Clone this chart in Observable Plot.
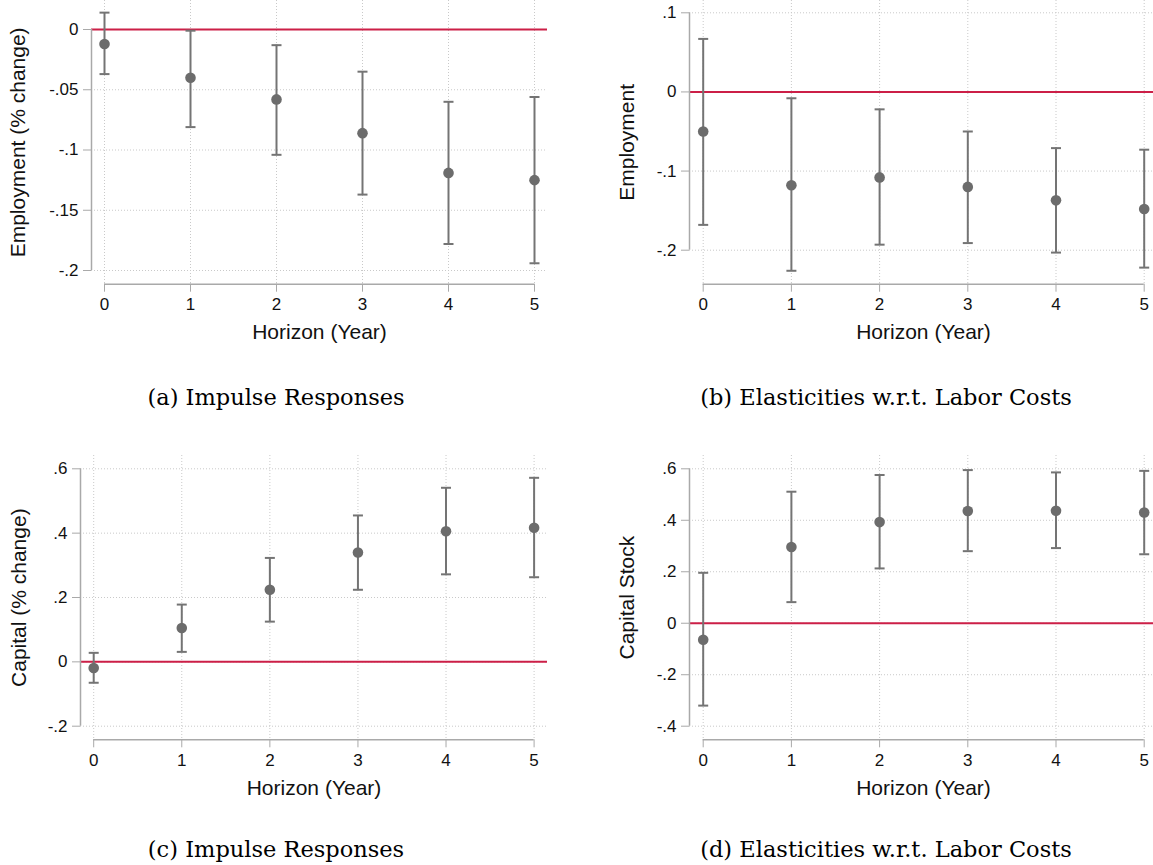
<!DOCTYPE html>
<html>
<head>
<meta charset="utf-8">
<script src="https://cdn.jsdelivr.net/npm/d3@7"></script>
<script src="https://cdn.jsdelivr.net/npm/@observablehq/plot@0.6"></script>
<style>
  html, body { margin: 0; padding: 0; background: #fff; }
  #page { position: relative; width: 1153px; height: 865px; overflow: hidden; background: #fff; }
  .panel { position: absolute; }
  #captions { position: absolute; left: 0; top: 0; pointer-events: none; }
</style>
</head>
<body>
<div id="page"></div>
<script>
// Horizon (years after the shock) and its tick labels
const horizon = [0, 1, 2, 3, 4, 5];
const horizonLabels = ["0", "1", "2", "3", "4", "5"];
const xTitle = "Horizon (Year)";

// (a) Employment, impulse responses (% change) with confidence bands
const empIrfEst = [-0.012, -0.040, -0.058, -0.086, -0.119, -0.125];
const empIrfLo  = [-0.037, -0.081, -0.104, -0.137, -0.178, -0.194];
const empIrfHi  = [ 0.014, -0.001, -0.013, -0.035, -0.060, -0.056];
const empIrfTicks  = [0, -0.05, -0.1, -0.15, -0.2];
const empIrfLabels = ["0", "-.05", "-.1", "-.15", "-.2"];

// (b) Employment, elasticities w.r.t. labor costs
const empElaEst = [-0.050, -0.118, -0.108, -0.120, -0.137, -0.148];
const empElaLo  = [-0.168, -0.226, -0.193, -0.191, -0.203, -0.222];
const empElaHi  = [ 0.067, -0.008, -0.022, -0.050, -0.071, -0.073];
const empElaTicks  = [0.1, 0, -0.1, -0.2];
const empElaLabels = [".1", "0", "-.1", "-.2"];

// (c) Capital, impulse responses (% change)
const capIrfEst = [-0.019, 0.105, 0.224, 0.340, 0.406, 0.417];
const capIrfLo  = [-0.065, 0.031, 0.125, 0.224, 0.272, 0.263];
const capIrfHi  = [ 0.028, 0.178, 0.323, 0.455, 0.541, 0.572];
const capIrfTicks  = [0.6, 0.4, 0.2, 0, -0.2];
const capIrfLabels = [".6", ".4", ".2", "0", "-.2"];

// (d) Capital stock, elasticities w.r.t. labor costs
const capElaEst = [-0.064, 0.296, 0.393, 0.436, 0.437, 0.430];
const capElaLo  = [-0.320, 0.082, 0.213, 0.280, 0.292, 0.268];
const capElaHi  = [ 0.196, 0.511, 0.576, 0.595, 0.586, 0.592];
const capElaTicks  = [0.6, 0.4, 0.2, 0, -0.2, -0.4];
const capElaLabels = [".6", ".4", ".2", "0", "-.2", "-.4"];

const yTitles  = ["Employment (% change)", "Employment", "Capital (% change)", "Capital Stock"];
const captions = ["(a) Impulse Responses", "(b) Elasticities w.r.t. Labor Costs",
                  "(c) Impulse Responses", "(d) Elasticities w.r.t. Labor Costs"];

// Colours
const GRID = "#c9c9c9";
const AXIS = "#a9a9a9";
const BAR  = "#747474";
const DOT  = "#6c6c6c";
const ZERO = "#cc1f47";
const SANS = "'Liberation Sans', Arial, Helvetica, sans-serif";

// Horizontal cap for the error bars
const capSymbol = {
  draw(ctx, size) {
    const r = Math.sqrt(size / Math.PI);
    ctx.moveTo(-r, 0);
    ctx.lineTo(r, 0);
  }
};

// Page layout of each panel (page pixels)
const layout = [
  {left: 0,   top: 0,   w: 580, h: 370, xL: 91,  xR: 547,  px0: 104,   px5: 534,    yT: 0,   yB: 283.7, titleX: 10},
  {left: 590, top: 0,   w: 600, h: 370, xL: 689, xR: 1157, px0: 702.7, px5: 1143.7, yT: 0,   yB: 283.7, titleX: 619},
  {left: 0,   top: 440, w: 580, h: 370, xL: 80,  xR: 547,  px0: 93.2,  px5: 533.6,  yT: 455, yB: 739.3, titleX: 10.7},
  {left: 590, top: 440, w: 600, h: 370, xL: 689, xR: 1157, px0: 702.7, px5: 1143.7, yT: 455, yB: 739.3, titleX: 619}
];
// Pixel rows of the lowest and highest y tick in each panel
const yTickPixels = [[270, 29], [249.7, 12.3], [725.7, 468.3], [725.7, 468.3]];

const series = [
  {est: empIrfEst, lo: empIrfLo, hi: empIrfHi, ticks: empIrfTicks, labels: empIrfLabels},
  {est: empElaEst, lo: empElaLo, hi: empElaHi, ticks: empElaTicks, labels: empElaLabels},
  {est: capIrfEst, lo: capIrfLo, hi: capIrfHi, ticks: capIrfTicks, labels: capIrfLabels},
  {est: capElaEst, lo: capElaLo, hi: capElaHi, ticks: capElaTicks, labels: capElaLabels}
];

const page = document.getElementById("page");

series.forEach((s, k) => {
  const g = layout[k];
  const [pyMin, pyMax] = yTickPixels[k];
  const rows = horizon.map((h, i) => ({h, est: s.est[i], lo: s.lo[i], hi: s.hi[i]}));
  const yMin = d3.min(s.ticks), yMax = d3.max(s.ticks);

  const chart = Plot.plot({
    width: g.w,
    height: g.h,
    marginLeft: g.xL - g.left,
    marginRight: g.w - (g.xR - g.left),
    marginTop: g.yT - g.top,
    marginBottom: g.h - (g.yB - g.top),
    x: {domain: [0, 5], range: [g.px0 - g.left, g.px5 - g.left], label: null},
    y: {domain: [yMin, yMax], range: [pyMin - g.top, pyMax - g.top], label: null},
    style: {fontFamily: SANS, fontSize: "17px", color: "#000", background: "transparent"},
    marks: [
      // dotted grid
      Plot.ruleY(s.ticks, {stroke: GRID, strokeWidth: 1, strokeDasharray: "1,2"}),
      Plot.ruleX(horizon, {stroke: GRID, strokeWidth: 1, strokeDasharray: "1,2"}),
      // zero reference line
      Plot.ruleY([0], {stroke: ZERO, strokeWidth: 2}),
      // axis lines spanning the tick range
      Plot.ruleX([0], {y1: yMin, y2: yMax, dx: g.xL - g.px0, stroke: AXIS, strokeWidth: 1.5}),
      Plot.ruleY([yMin], {x1: 0, x2: 5, dy: g.yB - pyMin, stroke: AXIS, strokeWidth: 1.5}),
      Plot.axisY({ticks: s.ticks, tickSize: 8, tickPadding: 5, label: null,
        tickFormat: d => s.labels[s.ticks.indexOf(d)], stroke: AXIS, fill: "#111", fontSize: 17}),
      Plot.axisX({ticks: horizon, tickSize: 8, tickPadding: 6, label: null,
        tickFormat: d => horizonLabels[horizon.indexOf(d)], stroke: AXIS, fill: "#111", fontSize: 17}),
      // confidence intervals and point estimates
      Plot.ruleX(rows, {x: "h", y1: "lo", y2: "hi", stroke: BAR, strokeWidth: 2}),
      Plot.dot(rows, {x: "h", y: "lo", symbol: capSymbol, r: 5, fill: "none", stroke: BAR, strokeWidth: 2}),
      Plot.dot(rows, {x: "h", y: "hi", symbol: capSymbol, r: 5, fill: "none", stroke: BAR, strokeWidth: 2}),
      Plot.dot(rows, {x: "h", y: "est", r: 5.3, fill: DOT, stroke: "none"}),
      // axis titles
      Plot.text([yTitles[k]], {frameAnchor: "left", dx: g.titleX - g.xL, rotate: -90,
        lineAnchor: "top", textAnchor: "middle", fontSize: 21, fill: "#111"}),
      Plot.text([xTitle], {frameAnchor: "bottom", dy: 48, lineAnchor: "middle",
        textAnchor: "middle", fontSize: 21, fill: "#111"})
    ]
  });
  chart.classList.add("panel");
  chart.style.left = g.left + "px";
  chart.style.top = g.top + "px";
  page.appendChild(chart);
});

// Sub-figure captions
const capPos = [[276, 405], [886, 405], [276, 857], [886, 857]];
const svg = d3.select(page).append("svg")
  .attr("id", "captions")
  .attr("width", 1153).attr("height", 865);
svg.selectAll("text").data(captions).join("text")
  .attr("x", (d, i) => capPos[i][0])
  .attr("y", (d, i) => capPos[i][1])
  .attr("text-anchor", "middle")
  .attr("font-family", "'Palatino Linotype', 'Book Antiqua', Palatino, 'DejaVu Serif', serif")
  .attr("font-size", 22.5)
  .attr("fill", "#000")
  .text(d => d);
</script>
</body>
</html>
